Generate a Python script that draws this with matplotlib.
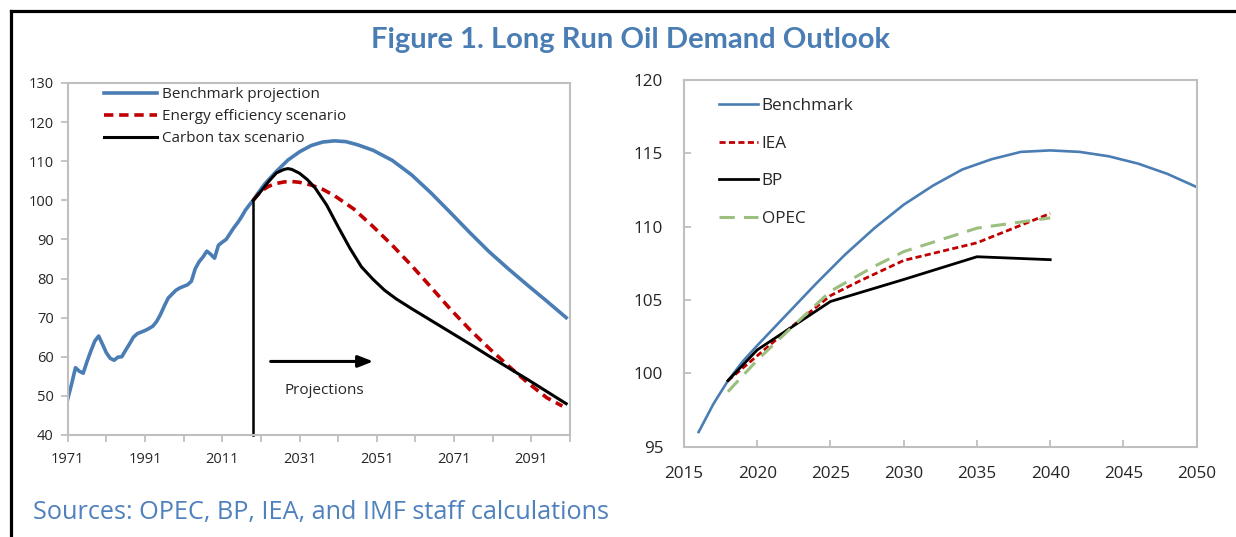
"""
Long run oil demand outlook, two panels
"""

import numpy as np
import matplotlib as mpl
mpl.use("Agg")
import matplotlib.pyplot as plt
from matplotlib.lines import Line2D

plt.rcParams["font.family"] = ["Open Sans", "DejaVu Sans"]

# left panel: history + scenarios (index)
hist_years = list(range(1971, 2020))
hist_vals = [49.2, 53.0, 57.2, 56.3, 55.8, 58.8, 61.5, 64.0, 65.3, 63.2,
             61.0, 59.6, 59.1, 59.9, 60.0, 61.7, 63.3, 65.0, 65.9, 66.3,
             66.7, 67.2, 67.8, 69.0, 70.8, 73.0, 75.0, 76.0, 77.0, 77.6,
             78.0, 78.4, 79.3, 82.5, 84.3, 85.5, 87.0, 86.2, 85.2, 88.5,
             89.3, 90.0, 91.5, 93.0, 94.3, 95.8, 97.5, 98.8, 100.0]

bench_years = [2019, 2020, 2022, 2025, 2028, 2031, 2034, 2037, 2040, 2043, 2046,
               2050, 2055, 2060, 2065, 2070, 2075, 2080, 2085, 2090, 2095, 2100]
bench_vals = [100.0, 101.5, 104.2, 107.4, 110.3, 112.4, 114.0, 114.9, 115.2, 115.0,
              114.2, 112.8, 110.2, 106.5, 101.9, 96.9, 91.8, 86.9, 82.5, 78.3, 74.2, 70.0]

eff_years = [2019, 2021, 2023, 2025, 2027, 2029, 2031, 2034, 2037, 2040, 2045,
             2050, 2055, 2060, 2065, 2070, 2075, 2080, 2085, 2090, 2095, 2099]
eff_vals = [100.0, 102.3, 103.6, 104.3, 104.7, 104.8, 104.6, 103.9, 102.8, 101.2, 97.8,
            93.3, 88.5, 83.3, 77.8, 72.2, 67.0, 62.2, 57.7, 53.4, 49.5, 47.4]

tax_years = [2019, 2021, 2023, 2025, 2027, 2028, 2029, 2031, 2033, 2035, 2038, 2041, 2044,
             2047, 2050, 2053, 2056, 2060, 2065, 2070, 2075, 2080, 2085, 2090, 2095, 2100]
tax_vals = [100.0, 102.3, 104.8, 107.0, 107.9, 108.1, 107.9, 106.9, 105.3, 103.2, 98.8, 93.2, 87.8,
            83.0, 79.8, 77.0, 74.8, 72.3, 69.3, 66.3, 63.3, 60.2, 57.2, 54.2, 51.1, 48.0]

proj_start = 2019

# right panel: comparison with other outlooks
rb_years = [2016, 2017, 2018, 2019, 2020, 2022, 2024, 2026, 2028, 2030,
            2032, 2034, 2036, 2038, 2040, 2042, 2044, 2046, 2048, 2050]
rb_vals = [96.0, 97.9, 99.5, 100.8, 101.9, 104.0, 106.1, 108.1, 109.9, 111.5,
           112.8, 113.9, 114.6, 115.1, 115.2, 115.1, 114.8, 114.3, 113.6, 112.7]
iea_years = [2018, 2020, 2022, 2025, 2027, 2030, 2035, 2040]
iea_vals = [99.5, 101.2, 102.9, 105.3, 106.3, 107.7, 108.9, 110.9]
bp_years = [2018, 2020, 2025, 2030, 2035, 2040]
bp_vals = [99.5, 101.6, 104.9, 106.4, 107.95, 107.75]
opec_years = [2018, 2020, 2022, 2025, 2028, 2030, 2035, 2040]
opec_vals = [98.75, 100.9, 102.8, 105.6, 107.3, 108.3, 109.9, 110.6]

BLUE = "#4a7db4"
RED = "#c00000"
GREEN = "#9bbf7e"
GREY = "#bfbfbf"
TXT = "#262626"


def style_box(ax):
    for sp in ax.spines.values():
        sp.set_color(GREY)
        sp.set_linewidth(1.5)


def main():
    fig = plt.figure(figsize=(12.36, 5.37), dpi=100)

    # ---- left panel
    ax = fig.add_axes([0.0548, 0.19, 0.4064, 0.6555])
    ax.plot(hist_years + bench_years[1:], hist_vals + bench_vals[1:], color=BLUE, lw=2.6,
            label="Benchmark projection", solid_joinstyle="round")
    ax.plot(eff_years, eff_vals, color=RED, lw=2.6, dashes=(2.6, 1.6),
            label="Energy efficiency scenario")
    ax.plot(tax_years, tax_vals, color="black", lw=2.2, label="Carbon tax scenario")
    ax.plot([proj_start, proj_start], [40, 100], color="black", lw=1.8, clip_on=False)
    ax.annotate("", xy=(2050.8, 58.8), xytext=(2022.8, 58.8),
                arrowprops=dict(arrowstyle="-|>,head_length=0.9,head_width=0.35",
                                color="black", lw=2.2))
    ax.text(2037.5, 51.3, "Projections", ha="center", va="center", fontsize=11, color=TXT)

    ax.set_xlim(1971, 2101)
    ax.set_ylim(40, 130)
    ax.set_yticks(np.arange(40, 131, 10))
    ax.set_xticks(np.arange(1971, 2100, 20))
    ax.set_xticks(np.arange(1971, 2102, 10), minor=True)
    ax.tick_params(axis="both", which="both", direction="out", color=GREY, width=1.3,
                   labelsize=10.5, labelcolor=TXT)
    ax.tick_params(axis="x", which="both", length=5, pad=7)
    ax.tick_params(axis="y", length=5, pad=5)
    style_box(ax)
    ax.legend(loc="upper left", bbox_to_anchor=(0.06, 1.005), frameon=False, fontsize=11,
              handlelength=3.45, handletextpad=0.33, labelspacing=0.45, borderaxespad=0,
              labelcolor=TXT)

    # ---- right panel
    ax2 = fig.add_axes([0.5534, 0.1682, 0.4148, 0.6828])
    ax2.plot(rb_years, rb_vals, color=BLUE, lw=1.9, label="Benchmark")
    ax2.plot(iea_years, iea_vals, color=RED, lw=2.0, dashes=(2.2, 1.2), label="IEA")
    ax2.plot(bp_years, bp_vals, color="black", lw=2.0, label="BP")
    ax2.plot(opec_years, opec_vals, color=GREEN, lw=2.2, dashes=(5, 3), label="OPEC")
    ax2.set_xlim(2015, 2050)
    ax2.set_ylim(95, 120)
    ax2.set_xticks(np.arange(2015, 2051, 5))
    ax2.set_yticks(np.arange(95, 121, 5))
    ax2.tick_params(axis="both", direction="in", color=GREY, width=1.3, length=5,
                    labelsize=12.3, labelcolor=TXT)
    ax2.tick_params(axis="x", pad=14)
    ax2.tick_params(axis="y", pad=15)
    style_box(ax2)
    ax2.legend(loc="upper left", bbox_to_anchor=(0.055, 0.97), frameon=False, fontsize=12.3,
               handlelength=2.3, handletextpad=0.2, labelspacing=1.27, borderaxespad=0,
               labelcolor=TXT)

    # ---- title, source, frame
    fig.text(0.5105, 0.925, "Figure 1. Long Run Oil Demand Outlook", ha="center", va="center",
             fontsize=21, fontweight="bold", color=BLUE, family=["Lato", "DejaVu Sans"])
    fig.text(33 / 1236, 1 - 512 / 537, "Sources: OPEC, BP, IEA, and IMF staff calculations",
             ha="left", va="center", fontsize=18.2, color="#4f81bd")
    x0, ytop = 11 / 1236, 1 - 11 / 537
    fig.add_artist(Line2D([x0, 1], [ytop, ytop], color="black", lw=2.3))
    fig.add_artist(Line2D([x0, x0], [0, ytop], color="black", lw=2.3))

    fig.savefig("out.png", dpi=100)


if __name__ == "__main__": main()
